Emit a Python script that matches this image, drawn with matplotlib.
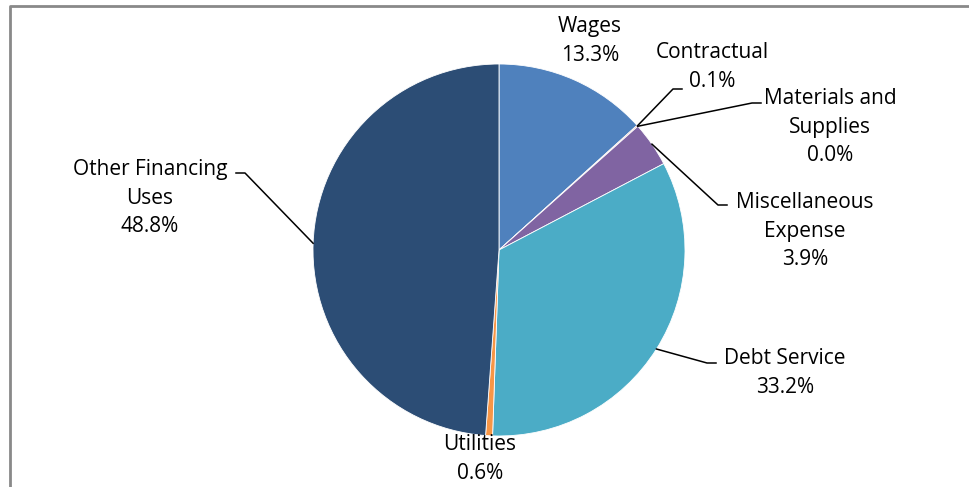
import numpy as np
import matplotlib.pyplot as plt

# slice data, clockwise from 12 o'clock
labels = ['Wages', 'Contractual', 'Materials and\nSupplies', 'Miscellaneous\nExpense',
          'Debt Service', 'Utilities', 'Other Financing\nUses']
values = [13.3, 0.1, 0.0, 3.9, 33.2, 0.6, 48.8]
colors = ['#4F81BD', '#C0504D', '#9BBB59', '#8064A2', '#4BACC6', '#F79646', '#2C4D75']

# label centres (pixels from top-left) and leader elbow, None = no leader
label_pos = [(590, 41), (712, 67), (830, 127), (805, 231), (785, 373), (480, 459), (150, 198)]
elbows = [None, (673, 89), (752, 103), (718, 205), (707, 363), None, (245, 173)]
bar_dir = [0, 1, 1, 1, 1, 0, -1]

W, H = 970, 487
plt.rcParams['font.family'] = ['Open Sans', 'DejaVu Sans']

fig = plt.figure(figsize=(W / 100, H / 100), dpi=100)
ax = fig.add_axes([0, 0, 1, 1])

cx, cy, r = 499, H - 250, 186
wedges, _ = ax.pie(values, colors=colors, startangle=90, counterclock=False,
                   center=(cx, cy), radius=r, frame=True,
                   wedgeprops=dict(edgecolor='white', linewidth=0.6))
ax.set_xlim(0, W)
ax.set_ylim(0, H)
ax.axis('off')

pct = [f'{v:.1f}%' for v in values]
for i, w in enumerate(wedges):
    lx, ly = label_pos[i]
    ax.text(lx, H - ly, f'{labels[i]}\n{pct[i]}', ha='center', va='center',
            fontsize=15, linespacing=1.45, color='black')
    if elbows[i] is None:
        continue
    mid = np.deg2rad((w.theta1 + w.theta2) / 2)
    px, py = cx + r * np.cos(mid), cy + r * np.sin(mid)
    ex, ey = elbows[i]
    ax.plot([px, ex, ex + 9 * bar_dir[i]], [py, H - ey, H - ey], color='black', lw=1.1)

# chart frame
ax.plot([10, 10, W], [0, H - 6, H - 6], color='#898989', lw=2, clip_on=False)

fig.savefig('out.png', dpi=100)
